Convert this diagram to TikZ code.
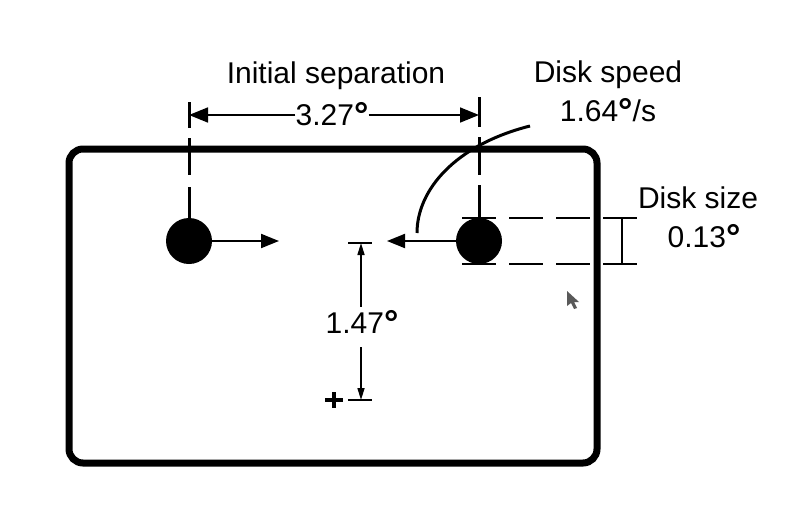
\documentclass[tikz,border=0pt]{standalone}
\usepackage{fontspec}
\setmainfont{Liberation Sans}
\usetikzlibrary{arrows.meta}
\newcommand{\degsym}{{\fontsize{36}{36}\selectfont\bfseries\raisebox{-2pt}{°}}}
\begin{document}
\begin{tikzpicture}[x=1pt,y=-1pt,
  lbl/.style={font=\fontsize{30}{32}\selectfont, inner sep=0pt, anchor=base},
  disk/.style={circle, fill=black, minimum size=46pt, inner sep=0pt},
  dim/.style={line width=1.6pt},
  bigtip/.style={-{Triangle[length=19pt,width=15pt]}},
  disktip/.style={-{Triangle[length=18pt,width=14pt]}},
  smalltip/.style={-{Triangle[length=12pt,width=7pt]}},
  guide/.style={line width=3pt},
  dsh/.style={line width=2pt, dash pattern=on 34pt off 13pt}
]
\useasboundingbox (0,0) rectangle (808,525);
% screen
\draw[line width=7pt, rounded corners=14pt] (69,149) rectangle (597,463);
% disks
\node[disk] (dL) at (189,241) {};
\node[disk] (dR) at (479,241) {};
\coordinate (aL) at (279,241);
\coordinate (aR) at (387,241);
\draw[line width=2pt, disktip] (dL.east) -- (aL);
\draw[line width=2pt, disktip] (dR.west) -- (aR);
% guide lines
\coordinate (gL1) at (189,102); \coordinate (gL2) at (189,128);
\coordinate (gL3) at (189,138); \coordinate (gL4) at (189,175);
\coordinate (gL5) at (189,187);
\draw[guide] (gL1) -- (gL2) (gL3) -- (gL4) (gL5) -- (dL.north);
\coordinate (gR1) at (479,97); \coordinate (gR2) at (479,127);
\coordinate (gR3) at (479,137); \coordinate (gR4) at (479,175);
\coordinate (gR5) at (479,185);
\draw[guide] (gR1) -- (gR2) (gR3) -- (gR4) (gR5) -- (dR.north);
% initial separation
\node[lbl] (title) at (336,83) {Initial separation};
\node[lbl] (sep) at (332,125) {3.27\degsym};
\coordinate (tL) at (189,115);
\coordinate (tR) at (479,115);
\draw[dim, bigtip] (sep.west |- tL) -- (tL);
\draw[dim, bigtip] (sep.east |- tR) -- (tR);
% disk speed
\node[lbl] (spd) at (608,82) {Disk speed};
\node[lbl] (spdv) at (608,121) {1.64\degsym/s};
\coordinate (c0) at (530,126);
\coordinate (c1) at (417,233);
\draw[line width=3pt] (c0) .. controls (455,145) and (417,190) .. (c1);
% disk size
\coordinate (s1) at (462,218); \coordinate (s2) at (640,218);
\coordinate (s3) at (462,264); \coordinate (s4) at (640,264);
\draw[dsh] (s1) -- (s2);
\draw[dsh] (s3) -- (s4);
\coordinate (v1) at (622,218); \coordinate (v2) at (622,264);
\draw[dim] (v1) -- (v2);
\node[lbl] (sz) at (698,208) {Disk size};
\node[lbl] (szv) at (704,247) {0.13\degsym};
% vertical offset
\node[lbl] (off) at (362,333) {1.47\degsym};
\coordinate (o1) at (361,243);
\coordinate (o2) at (361,400);
\draw[dim, smalltip] (off.north -| o1) ++(0,-3) -- (o1);
\draw[dim, smalltip] (off.south -| o2) ++(0,12) -- (o2);
\draw[dim] (348,243) -- (372,243);
\draw[dim] (348,400) -- (372,400);
% fixation cross
\coordinate (p0) at (334,400);
\draw[line width=4pt] (p0) ++(-9,0) -- ++(18,0);
\draw[line width=4pt] (p0) ++(0,-8) -- ++(0,16);
% cursor
\fill[gray!70!black] (567,291) -- (567,306) -- (571,303) -- (574,309) -- (577,308) -- (574,302) -- (579,302) -- cycle;
\end{tikzpicture}
\end{document}
